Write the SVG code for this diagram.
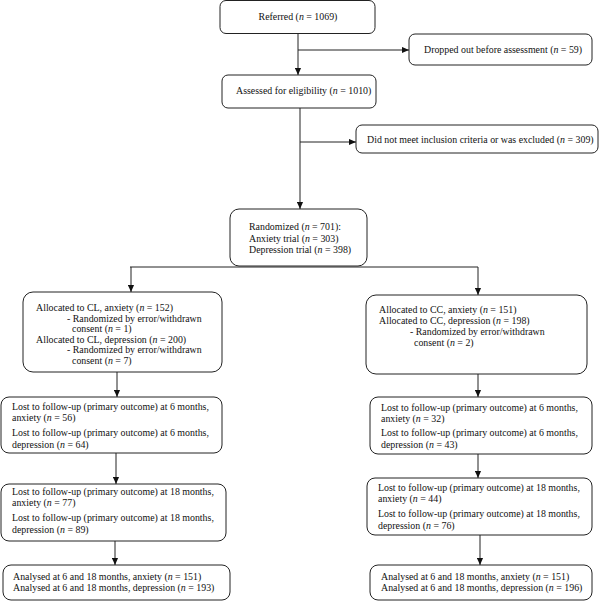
<svg xmlns="http://www.w3.org/2000/svg" width="600" height="604" viewBox="0 0 600 604">
<style>
.box{fill:#fff;stroke:#222;stroke-width:1}
.t{font-family:"Liberation Serif","Times New Roman",serif;font-size:9.9px;fill:#111}
.i{font-style:italic}
.c{fill:none;stroke:#222;stroke-width:1}
</style>
<defs>
<marker id="a" viewBox="0 0 8 8" refX="8" refY="4" markerWidth="7" markerHeight="7" markerUnits="userSpaceOnUse" orient="auto">
<path d="M0,0.5 L8,4 L0,7.5 z" fill="#111"/>
</marker>
</defs>
<rect width="600" height="604" fill="#fff"/>
<g id="connectors">
<path class="c" d="M298,34 V75" marker-end="url(#a)"/>
<path class="c" d="M298,50 H409" marker-end="url(#a)"/>
<path class="c" d="M300,108 V209" marker-end="url(#a)"/>
<path class="c" d="M300,142 H356" marker-end="url(#a)"/>
<path class="c" d="M130,267 H478"/>
<path class="c" d="M131,267 V292" marker-end="url(#a)"/>
<path class="c" d="M478,267 V295" marker-end="url(#a)"/>
<path class="c" d="M117,372 V397" marker-end="url(#a)"/>
<path class="c" d="M478,374 V397" marker-end="url(#a)"/>
<path class="c" d="M116,453 V484" marker-end="url(#a)"/>
<path class="c" d="M478,454 V478" marker-end="url(#a)"/>
<path class="c" d="M115,541 V565" marker-end="url(#a)"/>
<path class="c" d="M480,535 V565" marker-end="url(#a)"/>
</g>
<g id="referred">
<rect class="box" x="220" y="0.5" width="155" height="33" rx="6"/>
<text class="t" x="298" y="20" text-anchor="middle">Referred (<tspan class="i">n</tspan> = 1069)</text>
</g>
<g id="dropped">
<rect class="box" x="409" y="34" width="183" height="31" rx="6"/>
<text class="t" x="424" y="53">Dropped out before assessment (<tspan class="i">n</tspan> = 59)</text>
</g>
<g id="assessed">
<rect class="box" x="222" y="75" width="154" height="33" rx="6"/>
<text class="t" x="236" y="94">Assessed for eligibility (<tspan class="i">n</tspan> = 1010)</text>
</g>
<g id="excluded">
<rect class="box" x="356" y="125" width="242" height="28" rx="6"/>
<text class="t" x="367" y="142.5">Did not meet inclusion criteria or was excluded (<tspan class="i">n</tspan> = 309)</text>
</g>
<g id="randomized">
<rect class="box" x="230" y="209" width="137" height="57" rx="9"/>
<text class="t" x="249" y="230">Randomized (<tspan class="i">n</tspan> = 701):</text>
<text class="t" x="249" y="241.5">Anxiety trial (<tspan class="i">n</tspan> = 303)</text>
<text class="t" x="249" y="253">Depression trial (<tspan class="i">n</tspan> = 398)</text>
</g>
<g id="alloc-cl">
<rect class="box" x="23" y="292" width="199" height="80" rx="10"/>
<text class="t" x="36" y="311">Allocated to CL, anxiety (<tspan class="i">n</tspan> = 152)</text>
<text class="t" x="67" y="321.5">- Randomized by error/withdrawn</text>
<text class="t" x="72" y="332">consent (<tspan class="i">n</tspan> = 1)</text>
<text class="t" x="36" y="342.5">Allocated to CL, depression (<tspan class="i">n</tspan> = 200)</text>
<text class="t" x="67" y="353">- Randomized by error/withdrawn</text>
<text class="t" x="72" y="364">consent (<tspan class="i">n</tspan> = 7)</text>
</g>
<g id="alloc-cc">
<rect class="box" x="366" y="295" width="221" height="79" rx="10"/>
<text class="t" x="379" y="313">Allocated to CC, anxiety (<tspan class="i">n</tspan> = 151)</text>
<text class="t" x="379" y="323.5">Allocated to CC, depression (<tspan class="i">n</tspan> = 198)</text>
<text class="t" x="410" y="335">- Randomized by error/withdrawn</text>
<text class="t" x="414" y="346">consent (<tspan class="i">n</tspan> = 2)</text>
</g>
<g id="cl-6m">
<rect class="box" x="1" y="397" width="221" height="56" rx="8"/>
<text class="t" x="12" y="410">Lost to follow-up (primary outcome) at 6 months,</text>
<text class="t" x="12" y="421">anxiety (<tspan class="i">n</tspan> = 56)</text>
<text class="t" x="12" y="436">Lost to follow-up (primary outcome) at 6 months,</text>
<text class="t" x="12" y="448">depression (<tspan class="i">n</tspan> = 64)</text>
</g>
<g id="cc-6m">
<rect class="box" x="370" y="397" width="222" height="57" rx="8"/>
<text class="t" x="381" y="411">Lost to follow-up (primary outcome) at 6 months,</text>
<text class="t" x="381" y="421.5">anxiety (<tspan class="i">n</tspan> = 32)</text>
<text class="t" x="381" y="436">Lost to follow-up (primary outcome) at 6 months,</text>
<text class="t" x="381" y="448">depression (<tspan class="i">n</tspan> = 43)</text>
</g>
<g id="cl-18m">
<rect class="box" x="1" y="484" width="225" height="57" rx="8"/>
<text class="t" x="12" y="495">Lost to follow-up (primary outcome) at 18 months,</text>
<text class="t" x="12" y="506">anxiety (<tspan class="i">n</tspan> = 77)</text>
<text class="t" x="12" y="521">Lost to follow-up (primary outcome) at 18 months,</text>
<text class="t" x="12" y="533">depression (<tspan class="i">n</tspan> = 89)</text>
</g>
<g id="cc-18m">
<rect class="box" x="367" y="478" width="225" height="57" rx="8"/>
<text class="t" x="378" y="491">Lost to follow-up (primary outcome) at 18 months,</text>
<text class="t" x="378" y="502">anxiety (<tspan class="i">n</tspan> = 44)</text>
<text class="t" x="378" y="517">Lost to follow-up (primary outcome) at 18 months,</text>
<text class="t" x="378" y="529">depression (<tspan class="i">n</tspan> = 76)</text>
</g>
<g id="cl-analysed">
<rect class="box" x="3" y="565" width="227" height="35" rx="8"/>
<text class="t" x="13" y="580">Analysed at 6 and 18 months, anxiety (<tspan class="i">n</tspan> = 151)</text>
<text class="t" x="13" y="591">Analysed at 6 and 18 months, depression (<tspan class="i">n</tspan> = 193)</text>
</g>
<g id="cc-analysed">
<rect class="box" x="370" y="565" width="222" height="35" rx="8"/>
<text class="t" x="381" y="580">Analysed at 6 and 18 months, anxiety (<tspan class="i">n</tspan> = 151)</text>
<text class="t" x="381" y="591">Analysed at 6 and 18 months, depression (<tspan class="i">n</tspan> = 196)</text>
</g>
</svg>
